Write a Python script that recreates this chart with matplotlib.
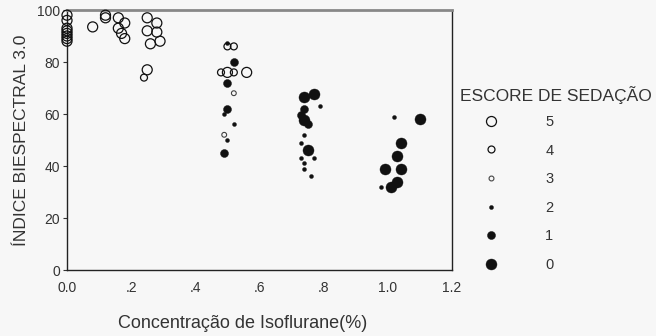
import matplotlib
matplotlib.use("Agg")
import matplotlib.pyplot as plt
from matplotlib.lines import Line2D

plt.rcParams['font.family'] = ['Liberation Sans', 'DejaVu Sans']

# Sedation score 5 (large open)
s5_x = [0, 0, 0, 0, 0, 0, 0, 0, 0.08, 0.12, 0.12, 0.16, 0.18, 0.16, 0.17, 0.18,
        0.25, 0.25, 0.28, 0.25, 0.28, 0.29, 0.26, 0.50, 0.56]
s5_y = [98, 96, 93, 92, 91, 90, 89, 88, 93.5, 98, 97, 97, 95, 93, 91, 89,
        77, 97, 95, 92, 91.5, 88, 87, 76, 76]
# score 4 (small open)
s4_x = [0.24, 0.50, 0.52, 0.48, 0.52]
s4_y = [74, 86, 86, 76, 76]
# score 3 (tiny open)
s3_x = [0.52, 0.49]
s3_y = [68, 52]
# score 2 (tiny filled)
s2_x = [0.50, 0.52, 0.50, 0.49, 0.79, 0.74, 0.73, 0.73, 0.77, 0.74, 0.74, 0.76, 1.02, 0.98]
s2_y = [87.5, 56, 50, 60, 63, 52, 49, 43, 43, 41, 39, 36, 59, 32]
# score 1 (medium filled)
s1_x = [0.52, 0.50, 0.50, 0.49, 0.74, 0.73, 0.75]
s1_y = [80, 72, 62, 45, 62, 59.6, 56]
# score 0 (large filled)
s0_x = [0.77, 0.74, 0.74, 0.75, 1.10, 1.04, 1.03, 0.99, 1.04, 1.03, 1.01]
s0_y = [67.7, 66.5, 57.7, 46, 58, 49, 44, 39, 39, 34, 32]

score_labels = ['5', '4', '3', '2', '1', '0']
x_ticks = [0.0, 0.2, 0.4, 0.6, 0.8, 1.0, 1.2]
x_ticklabels = ['0.0', '.2', '.4', '.6', '.8', '1.0', '1.2']
y_ticks = [0, 20, 40, 60, 80, 100]

bg = '#f7f7f7'
ink = '#111111'
txt = '#333333'

fig = plt.figure(figsize=(6.56, 3.36), dpi=100, facecolor=bg)
ax = fig.add_axes([67/656, 1-270/336, (452-67)/656, 260/336], facecolor=bg)

styles = [
    (s5_x, s5_y, dict(s=52, facecolors='none', edgecolors=ink, linewidths=0.9)),
    (s4_x, s4_y, dict(s=25, facecolors='none', edgecolors=ink, linewidths=0.9)),
    (s3_x, s3_y, dict(s=12, facecolors='none', edgecolors='#444444', linewidths=0.8)),
    (s2_x, s2_y, dict(s=8, facecolors=ink, edgecolors=ink, linewidths=0.3)),
    (s1_x, s1_y, dict(s=33, facecolors=ink, edgecolors=ink, linewidths=0.3)),
    (s0_x, s0_y, dict(s=63, facecolors=ink, edgecolors=ink, linewidths=0.3)),
]
for xs, ys, kw in styles:
    ax.scatter(xs, ys, clip_on=False, zorder=3, **kw)

ax.set_xlim(0, 1.2)
ax.set_ylim(0, 100)
ax.set_xticks(x_ticks)
ax.set_xticklabels(x_ticklabels)
ax.set_yticks(y_ticks)
ax.tick_params(axis='both', labelsize=10, colors=txt, length=3, width=0.8, pad=2)
ax.tick_params(axis='x', length=0, pad=8)
for side in ['left', 'bottom', 'right']:
    ax.spines[side].set_color('#222222')
    ax.spines[side].set_linewidth(1.0)
ax.spines['top'].set_color('#888888')
ax.spines['top'].set_linewidth(2.0)

ax.set_xlabel('Concentração de Isoflurane(%)', fontsize=13, color=txt,
              labelpad=14, x=0.456)
ax.set_ylabel('ÍNDICE BIESPECTRAL 3.0', fontsize=12.5, color=txt, labelpad=6)

# legend
handles = [
    Line2D([], [], ls='none', marker='o', ms=7.2, mfc='none', mec=ink, mew=0.9),
    Line2D([], [], ls='none', marker='o', ms=5, mfc='none', mec=ink, mew=0.9),
    Line2D([], [], ls='none', marker='o', ms=3.5, mfc='none', mec='#444444', mew=0.8),
    Line2D([], [], ls='none', marker='o', ms=2.9, mfc=ink, mec=ink, mew=0.3),
    Line2D([], [], ls='none', marker='o', ms=5.8, mfc=ink, mec=ink, mew=0.3),
    Line2D([], [], ls='none', marker='o', ms=7.9, mfc=ink, mec=ink, mew=0.3),
]
leg = fig.legend(handles, score_labels, loc='upper left',
                 bbox_to_anchor=(484/656, 1-115/336), frameon=False,
                 fontsize=10.5, handlelength=1.0, handletextpad=3.2,
                 labelspacing=1.0, borderpad=0, borderaxespad=0)
for t in leg.get_texts():
    t.set_color(txt)
fig.text(460/656, 1-95/336, 'ESCORE DE SEDAÇÃO', ha='left', va='center',
         fontsize=12.5, color=txt)

fig.savefig('out.png', dpi=100, facecolor=bg)
